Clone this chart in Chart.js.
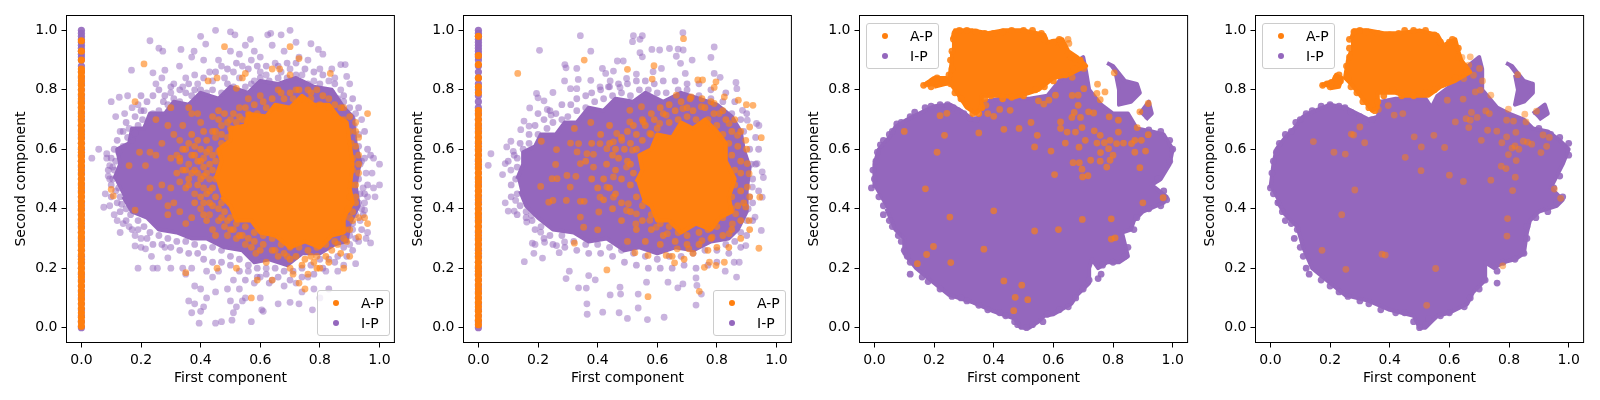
<!DOCTYPE html>
<html>
<head>
<meta charset="utf-8">
<script src="https://cdn.jsdelivr.net/npm/chart.js@4/dist/chart.umd.js"></script>
<style>
body { margin: 0; background: #fff; width: 1600px; height: 400px; overflow: hidden; position: relative; font-family: "DejaVu Sans", sans-serif; }
canvas { position: absolute; top: 0; }
.legend { position: absolute; width: 71px; height: 44px; border: 1px solid #ccc; border-radius: 3px; background: rgba(255,255,255,.8); font-size: 14px; color: #000; }
.legend span { position: absolute; left: 43px; line-height: 16px; }
.legend i { position: absolute; left: 15px; width: 6px; height: 6px; border-radius: 50%; }
</style>
</head>
<body>
<canvas id="c0" width="398" height="400"></canvas>
<canvas id="c1" width="398" height="400"></canvas>
<canvas id="c2" width="398" height="400"></canvas>
<canvas id="c3" width="398" height="400"></canvas>
<script>
var axisTicks = [0, 0.2, 0.4, 0.6, 0.8, 1.0];
var seriesNames = ['A-P', 'I-P'];
var xTitle = 'First component';
var yTitle = 'Second component';

// first two panels, points stacked on the x = 0 edge (y values only)
var edgePurpleY = [0,.02,.04,.06,.08,.1,.12,.14,.16,.18,.2,.22,.24,.26,.28,.3,.32,.34,.36,.38,.4,.42,.44,.46,.48,.5,.52,.54,.56,.58,.6,.62,.64,.66,.68,.7,.72,.74,.76,.78,.8,.82,.84,.86,.88,.9,.91,.92,.93,.94,.95,.96,.97,.98,.99,1];
var edgeOrangeY1 = [.005,.02,.035,.05,.065,.08,.095,.11,.125,.14,.155,.17,.185,.2,.215,.23,.245,.26,.275,.29,.305,.32,.335,.35,.365,.38,.395,.41,.425,.44,.455,.47,.485,.5,.515,.53,.545,.56,.575,.59,.605,.62,.635,.65,.665,.68,.695,.71,.725,.74,.755,.77,.785,.8,.815,.83,.845,.86,.87,.9,.93,.965];
var edgeOrangeY2 = [.01,.025,.04,.055,.07,.085,.1,.115,.13,.145,.16,.175,.19,.205,.22,.235,.25,.265,.28,.295,.31,.325,.34,.355,.37,.385,.4,.415,.43,.445,.46,.475,.49,.505,.52,.535,.55,.565,.58,.595,.61,.625,.64,.655,.67,.685,.7,.715,.73,.79,.81,.84,.885,.915,.98];

// dense middle of each cloud, outline
var massPurple1 = [[.11,.5],[.13,.55],[.12,.6],[.16,.62],[.17,.67],[.21,.67],[.23,.72],[.28,.72],[.31,.76],[.36,.75],[.4,.79],[.46,.77],[.5,.81],[.56,.79],[.6,.83],[.66,.82],[.72,.84],[.78,.81],[.84,.8],[.88,.74],[.91,.71],[.92,.62],[.935,.56],[.92,.48],[.93,.41],[.9,.35],[.89,.29],[.85,.28],[.8,.25],[.74,.25],[.69,.21],[.63,.23],[.58,.22],[.54,.26],[.48,.27],[.42,.3],[.37,.3],[.32,.32],[.26,.33],[.22,.37],[.17,.39],[.14,.44]];
var massOrange1 = [[.45,.5],[.47,.56],[.46,.6],[.5,.63],[.5,.67],[.55,.68],[.56,.72],[.62,.71],[.65,.75],[.7,.74],[.74,.78],[.78,.75],[.83,.75],[.86,.71],[.89,.69],[.9,.62],[.91,.55],[.9,.47],[.91,.42],[.88,.37],[.88,.32],[.84,.31],[.8,.27],[.75,.29],[.7,.27],[.65,.31],[.6,.32],[.57,.36],[.52,.36],[.5,.41],[.47,.44]];
var massPurple2 = [[.13,.5],[.15,.55],[.15,.59],[.19,.61],[.21,.65],[.26,.65],[.29,.69],[.33,.69],[.37,.74],[.42,.73],[.46,.77],[.52,.76],[.56,.79],[.62,.76],[.68,.79],[.74,.77],[.8,.75],[.85,.71],[.88,.66],[.89,.6],[.91,.54],[.9,.46],[.9,.39],[.87,.33],[.84,.3],[.78,.29],[.72,.26],[.66,.27],[.6,.25],[.54,.27],[.49,.26],[.43,.3],[.37,.29],[.32,.32],[.25,.33],[.2,.37],[.16,.41],[.14,.46]];
var massOrange2 = [[.53,.49],[.55,.53],[.54,.58],[.58,.6],[.6,.65],[.65,.64],[.68,.69],[.72,.67],[.76,.7],[.8,.66],[.83,.62],[.83,.56],[.86,.5],[.84,.44],[.85,.39],[.81,.37],[.78,.33],[.73,.35],[.68,.32],[.64,.36],[.6,.36],[.58,.41],[.55,.43]];
var massPurple3 = [[0,.47],[0,.55],[.015,.6],[.05,.64],[.07,.675],[.11,.7],[.15,.72],[.2,.745],[.255,.75],[.29,.73],[.33,.7],[.36,.71],[.37,.76],[.42,.77],[.52,.77],[.58,.78],[.62,.83],[.66,.88],[.7,.91],[.71,.86],[.72,.8],[.76,.75],[.8,.72],[.85,.72],[.88,.67],[.93,.66],[.97,.65],[1,.6],[.99,.55],[.96,.5],[.93,.48],[.98,.44],[.97,.42],[.9,.39],[.87,.36],[.86,.33],[.83,.32],[.85,.24],[.82,.22],[.78,.22],[.75,.2],[.73,.23],[.72,.2],[.72,.15],[.68,.11],[.66,.08],[.6,.045],[.57,.04],[.55,.02],[.52,0],[.49,0],[.47,.03],[.4,.055],[.33,.085],[.25,.11],[.2,.15],[.14,.2],[.1,.25],[.1,.3],[.07,.33],[.04,.4]];
var wingPurple3 = [[.78,.89],[.8,.88],[.84,.83],[.88,.82],[.89,.79],[.86,.76],[.82,.75],[.82,.8],[.81,.85]];
var patchPurple3 = [[.89,.72],[.92,.76],[.93,.72],[.91,.7]];
var massOrange3 = [[.26,.97],[.27,1],[.33,1],[.38,.99],[.43,1],[.5,1],[.57,.985],[.58,.96],[.63,.97],[.65,.93],[.68,.91],[.71,.88],[.65,.85],[.6,.84],[.55,.8],[.52,.79],[.47,.775],[.42,.78],[.36,.78],[.36,.74],[.34,.72],[.31,.74],[.27,.8],[.25,.83],[.26,.9],[.26,.93]];
var islandOrange3 = [[.165,.815],[.2,.84],[.24,.84],[.24,.82],[.2,.81]];
var massPurple4 = [[0,.47],[.01,.55],[.02,.6],[.05,.64],[.08,.67],[.11,.71],[.15,.73],[.2,.75],[.25,.74],[.29,.72],[.33,.7],[.36,.71],[.37,.76],[.42,.77],[.52,.77],[.54,.74],[.56,.78],[.6,.81],[.65,.87],[.7,.91],[.71,.87],[.71,.8],[.76,.74],[.8,.72],[.85,.7],[.88,.67],[.93,.66],[.97,.63],[1,.6],[.98,.55],[.95,.49],[.94,.47],[.98,.43],[.96,.41],[.9,.39],[.87,.36],[.86,.32],[.85,.25],[.82,.23],[.78,.22],[.75,.2],[.72,.22],[.72,.16],[.68,.12],[.66,.08],[.6,.05],[.56,.04],[.54,.02],[.52,0],[.5,0],[.48,.04],[.4,.06],[.33,.09],[.25,.11],[.2,.15],[.14,.2],[.11,.27],[.09,.34],[.05,.38],[.02,.43]];
var wingPurple4 = [[.79,.89],[.81,.88],[.85,.83],[.88,.82],[.88,.79],[.85,.76],[.82,.75],[.83,.8],[.82,.85]];
var patchPurple4 = [[.88,.72],[.92,.75],[.93,.72],[.9,.7]];
var massOrange4 = [[.27,.97],[.28,1],[.33,1],[.38,.99],[.43,.99],[.5,1],[.56,.985],[.58,.95],[.62,.97],[.63,.93],[.64,.9],[.67,.86],[.62,.83],[.57,.81],[.53,.78],[.45,.78],[.42,.79],[.36,.79],[.36,.74],[.34,.73],[.31,.77],[.27,.82],[.25,.84],[.26,.9],[.27,.93]];
var islandOrange4 = [[.17,.815],[.21,.83],[.22,.85],[.24,.84],[.23,.81],[.2,.805]];

// single dots
var purple1 = [[.45,1],[.4,.98],[.5,.995],[.515,.985],[.7,1],[.67,.985],[.635,.99],[.625,.985],[.567,.97],[.23,.965],[.26,.94],[.273,.93],[.334,.936],[.417,.954],[.378,.93],[.77,.955],[.795,.936],[.168,.866],[.329,.88],[.24,.857],[.28,.866],[.37,.91],[.41,.9],[.46,.9],[.5,.93],[.53,.92],[.58,.93],[.6,.91],[.64,.95],[.68,.93],[.72,.96],[.73,.91],[.76,.9],[.8,.87],[.84,.87],[.87,.885],[.885,.885],[.89,.845],[.85,.84],[.81,.92],[.55,.95],[.57,.9],[.6,.86],[.65,.89],[.7,.87],[.43,.86],[.47,.88],[.51,.86],[.54,.88],[.35,.84],[.38,.85],[.31,.82],[.27,.84],[.25,.82],[.3,.79],[.34,.81],[.39,.82],[.44,.83],[.48,.84],[.53,.84],[.58,.83],[.62,.85],[.67,.86],[.74,.85],[.78,.83],[.83,.83],[.87,.8],
  [.1,.76],[.127,.775],[.155,.78],[.115,.71],[.145,.72],[.17,.74],[.19,.75],[.21,.73],[.13,.66],[.16,.67],[.035,.57],[.058,.6],[.085,.585],[.085,.57],[.095,.545],[.105,.54],[.09,.51],[.095,.5],[.115,.46],[.08,.45],[.075,.405],[.095,.41],[.11,.38],[.12,.36],[.14,.35],[.16,.34],[.13,.32],[.18,.31],[.2,.3],[.18,.275],[.2,.27],[.215,.265],[.235,.24],[.19,.2],[.24,.2],[.255,.2],[.29,.235],[.3,.2],[.34,.2],[.35,.18],[.37,.2],[.28,.27],
  [.42,.19],[.44,.17],[.46,.19],[.38,.14],[.4,.13],[.42,.1],[.36,.09],[.38,.08],[.41,.07],[.37,.05],[.4,.055],[.395,.015],[.45,.015],[.47,.02],[.505,.025],[.51,.05],[.57,.02],[.45,.12],[.49,.13],[.51,.16],[.53,.13],[.55,.1],[.5,.09],[.52,.07],[.54,.09],[.6,.1],[.605,.06],[.61,.055],[.66,.08],[.7,.085],[.73,.08],[.775,.06],[.8,.1],[.83,.13],[.78,.13],[.74,.12],[.68,.14],[.64,.16],[.6,.17],[.58,.15],[.56,.19],[.62,.2],[.72,.15],[.76,.17],[.82,.19],[.86,.19],[.88,.21],[.92,.215],
  [.9,.82],[.92,.72],[.94,.7],[.915,.68],[.93,.65],[.92,.6],[.94,.56],[.98,.57],[1,.55],[.955,.52],[.975,.52],[.945,.47],[.98,.47],[1,.48],[.96,.44],[.95,.42],[.985,.44],[.94,.4],[.95,.395],[.935,.36],[.96,.32],[.955,.3],[.97,.285],[.91,.33],[.93,.29],[.9,.28]];
var purpleFringe1 = [[.105,.5],[.11,.53],[.115,.56],[.125,.59],[.14,.61],[.125,.47],[.13,.44],[.135,.415],[.15,.4],[.165,.38],[.17,.63],[.155,.64],[.18,.655],[.19,.68],[.205,.7],[.225,.69],[.24,.72],[.26,.73],[.275,.76],[.29,.75],[.31,.77],[.33,.76],[.35,.79],[.37,.78],[.4,.8],[.42,.79],[.44,.8],[.47,.79],[.49,.82],[.51,.81],[.55,.81],[.57,.82],[.6,.84],[.63,.83],[.66,.84],[.69,.84],[.72,.85],[.76,.82],[.8,.82],[.84,.79],[.86,.77],[.88,.76],[.9,.74],[.91,.7],[.93,.61],[.935,.55],[.93,.5],[.935,.45],[.93,.42],[.92,.38],[.91,.35],[.9,.31],[.88,.27],[.86,.24],[.83,.23],[.8,.23],[.77,.21],[.74,.2],[.71,.19],[.68,.19],[.65,.2],[.62,.18],[.59,.2],[.56,.21],[.53,.23],[.5,.24],[.47,.26],[.44,.27],[.41,.27],[.38,.28],[.35,.29],[.32,.29],[.29,.3],[.26,.31],[.23,.32],[.21,.34],[.19,.36],
  [.2,.78],[.22,.76],[.24,.78],[.26,.8],[.28,.78],[.3,.81],[.33,.8],[.36,.82],[.38,.8],[.41,.84],[.45,.86],[.49,.87],[.52,.89],[.56,.87],[.59,.88],[.62,.88],[.66,.88],[.69,.89],[.72,.89],[.75,.87],[.78,.86],[.81,.85],[.85,.82],[.88,.78],[.91,.77],[.93,.74],[.95,.66],[.96,.6],[.97,.58],[.95,.57],[.96,.48],[.95,.45],[.945,.38],[.94,.33],[.92,.3],[.91,.26],[.89,.24],[.85,.22],[.81,.2],[.78,.18],[.74,.17],[.7,.16],[.66,.17],[.63,.15],[.59,.17],[.55,.16],[.53,.19],[.5,.21],[.47,.22],[.44,.22],[.41,.23],[.39,.25],[.36,.25],[.33,.26],[.3,.27],[.27,.28],[.24,.28],[.22,.3],[.19,.33],[.17,.33],[.15,.36],[.13,.39],[.12,.42],[.1,.44],[.1,.48],[.09,.53],[.1,.57],[.11,.6],[.12,.63],[.14,.66],[.15,.69],[.18,.71],[.2,.73]];
var orange1 = [[.48,.945],[.7,.945],[.21,.887],[.73,.905],[.55,.855],[.835,.855],[.64,.87],[.665,.87],[.7,.85],[.54,.84],[.425,.83],[.455,.84],[.52,.805],[.18,.76],[.3,.74],[.96,.72],[.25,.7],[.36,.74],[.37,.72],[.39,.72],[.34,.68],[.29,.68],[.4,.69],[.31,.65],[.33,.63],[.27,.62],[.195,.59],[.23,.59],[.25,.58],[.16,.545],[.215,.545],[.3,.57],[.32,.58],[.33,.57],[.36,.55],[.38,.53],[.41,.57],[.43,.6],[.45,.64],[.47,.68],[.5,.7],[.53,.74],[.56,.77],[.6,.78],[.66,.8],[.72,.8],[.76,.8],[.79,.8],[.83,.77],[.88,.74],[.92,.69],[.93,.64],[.93,.58],[.93,.52],[.23,.47],[.27,.48],[.3,.47],[.33,.49],[.35,.47],[.38,.45],[.41,.47],[.43,.5],[.1,.465],[.107,.443],[.18,.395],[.26,.44],[.29,.41],[.31,.42],[.29,.38],[.33,.39],[.35,.35],[.37,.37],[.4,.4],[.43,.38],[.44,.33],[.46,.36],[.49,.31],[.52,.3],[.55,.28],[.585,.25],[.62,.22],[.65,.26],[.69,.24],[.7,.2],[.71,.18],[.73,.15],[.75,.13],[.64,.16],[.59,.16],[.57,.1],[.52,.2],[.455,.2],[.35,.185],[.76,.18],[.8,.2],[.79,.24],[.84,.26],[.88,.2],[.9,.24],[.93,.305],[.95,.37],[.96,.35],[.93,.37],[.9,.37]];
var orangeFringe1 = [[.44,.47],[.45,.5],[.44,.53],[.45,.56],[.46,.59],[.47,.62],[.49,.64],[.5,.67],[.52,.69],[.54,.7],[.56,.72],[.59,.72],[.62,.74],[.65,.74],[.68,.77],[.71,.77],[.74,.77],[.77,.77],[.8,.75],[.83,.74],[.85,.71],[.88,.7],[.9,.66],[.905,.62],[.91,.57],[.91,.53],[.905,.48],[.9,.44],[.895,.4],[.88,.37],[.885,.33],[.86,.32],[.85,.29],[.82,.28],[.79,.27],[.76,.26],[.73,.27],[.7,.27],[.67,.28],[.64,.3],[.61,.31],[.58,.32],[.55,.34],[.52,.35],[.5,.37],[.48,.39],[.47,.42],[.45,.44],[.43,.46],[.42,.52],[.41,.54],[.4,.5],[.39,.56],[.37,.58],[.38,.61],[.4,.6],[.42,.63],[.44,.66],[.46,.7],[.48,.72],[.43,.42],[.41,.42],[.39,.48],[.36,.5],[.34,.53],[.32,.52],[.35,.6],[.37,.65],[.41,.66],[.44,.71],[.46,.73],[.42,.36],[.45,.31],[.48,.34],[.51,.33],[.53,.31],[.56,.3],[.58,.29],[.61,.28],[.64,.26],[.68,.25],[.72,.24],[.75,.23],[.78,.22],[.82,.24],[.86,.28],[.88,.3],[.91,.36],[.92,.44],[.92,.48],
  [.34,.6],[.36,.62],[.39,.63],[.33,.56],[.35,.53],[.37,.52],[.39,.52],[.41,.51],[.43,.55],[.44,.58],[.42,.59],[.4,.56],[.38,.58],[.36,.48],[.38,.42],[.4,.44],[.42,.45],[.44,.41],[.46,.4],[.47,.37],[.49,.36],[.41,.38],[.45,.66],[.47,.65],[.49,.69],[.51,.72],[.53,.71],[.55,.74],[.58,.75],[.61,.76],[.64,.77],[.67,.79],[.7,.79],[.73,.8],[.77,.79],[.81,.78],[.85,.75],[.87,.74],[.9,.71],[.92,.66],[.92,.61],[.93,.55],[.92,.42],[.91,.39],[.9,.33],[.89,.29],[.87,.25],[.83,.22],[.79,.2],[.77,.24],[.74,.21],[.7,.23],[.66,.24],[.6,.26],[.57,.27],[.54,.31],[.5,.33]];
var purple2 = [[.342,.982],[.205,.933],[.377,.93],[.52,.982],[.55,.982],[.517,.962],[.542,.97],[.687,.934],[.686,.992],[.791,.944],[.641,.939],[.67,.937],[.582,.936],[.608,.934],[.542,.925],[.55,.911],[.466,.897],[.486,.897],[.78,.909],[.717,.9],[.664,.913],[.678,.889],[.29,.885],[.294,.874],[.33,.872],[.416,.872],[.427,.855],[.453,.863],[.497,.838],[.53,.853],[.586,.861],[.614,.872],[.694,.855],[.791,.855],[.811,.842],[.864,.825],[.867,.804],[.289,.83],[.335,.835],[.377,.832],[.442,.83],[.195,.788],[.2,.773],[.22,.763],[.25,.791],[.309,.804],[.33,.804],[.408,.81],[.436,.81],[.475,.808],[.172,.739],[.231,.734],[.244,.715],[.153,.695],[.17,.678],[.109,.627],[.095,.608],[.142,.666],[.117,.593],[.042,.585],[.033,.546],[.081,.515],[.09,.552],[.109,.53],[.09,.42],[.125,.428],[.1,.392],[.12,.392],[.162,.355],[.178,.378],[.209,.321],[.181,.284],[.19,.28],[.222,.287],[.262,.276],[.289,.288],[.186,.25],[.154,.222],[.215,.234],[.271,.252],[.305,.19],[.294,.165],[.336,.134],[.362,.133],[.37,.175],[.392,.161],[.364,.08],[.365,.045],[.417,.052],[.472,.05],[.5,.031],[.567,.027],[.623,.035],[.442,.11],[.475,.136],[.477,.113],[.536,.113],[.536,.066],[.564,.153],[.636,.153],[.669,.134],[.73,.076],[.748,.113],[.733,.142],[.73,.167],[.686,.147],[.866,.17],[.828,.19],[.875,.22],[.858,.22],[.897,.276],[.949,.327],[.928,.372],[.952,.439],[.919,.473],[.956,.505],[.952,.524],[.935,.552],[.933,.687],[.941,.68],[.902,.698],[.886,.731]];
var purpleFringe2 = [[.125,.5],[.13,.54],[.13,.57],[.15,.6],[.17,.62],[.2,.65],[.23,.67],[.25,.69],[.28,.7],[.3,.71],[.33,.73],[.36,.74],[.39,.76],[.42,.77],[.45,.78],[.48,.79],[.51,.78],[.54,.8],[.57,.8],[.6,.79],[.63,.79],[.67,.8],[.7,.8],[.74,.78],[.78,.77],[.82,.76],[.85,.72],[.88,.7],[.89,.66],[.91,.6],[.915,.55],[.92,.5],[.91,.44],[.905,.4],[.9,.36],[.88,.32],[.86,.29],[.83,.28],[.8,.26],[.76,.26],[.72,.25],[.68,.24],[.64,.24],[.6,.23],[.56,.24],[.52,.25],[.48,.26],[.44,.27],[.4,.28],[.36,.28],[.32,.29],[.28,.31],[.24,.31],[.21,.34],[.18,.36],[.16,.39],[.14,.41],[.13,.45],
  [.2,.72],[.22,.7],[.24,.73],[.26,.72],[.28,.75],[.31,.75],[.33,.77],[.36,.78],[.38,.79],[.41,.8],[.44,.81],[.47,.82],[.5,.82],[.53,.83],[.56,.83],[.59,.82],[.62,.83],[.66,.83],[.7,.82],[.74,.82],[.78,.8],[.83,.79],[.86,.76],[.9,.72],[.93,.64],[.94,.6],[.93,.55],[.94,.46],[.92,.42],[.92,.36],[.9,.31],[.88,.27],[.84,.25],[.8,.22],[.77,.21],[.73,.2],[.69,.21],[.65,.2],[.61,.2],[.57,.2],[.53,.21],[.49,.22],[.45,.24],[.41,.25],[.37,.25],[.33,.26],[.29,.27],[.25,.28],[.22,.3],[.19,.33],[.16,.37],[.13,.38],[.11,.44],[.11,.48],[.1,.56],[.12,.58],[.14,.62],[.17,.65],[.19,.68]];
var orange2 = [[.132,.855],[.355,.9],[.688,.972],[.589,.881],[.5,.869],[.583,.836],[.736,.833],[.752,.833],[.791,.808],[.797,.827],[.921,.748],[.899,.75],[.791,.754],[.872,.765],[.825,.776],[.714,.776],[.664,.782],[.949,.639],[.91,.675],[.944,.439],[.941,.267],[.322,.284],[.431,.194],[.569,.104],[.741,.122],[.797,.209],[.758,.203],[.775,.22],[.825,.22],[.658,.218],[.569,.243],[.63,.243],[.525,.252],[.5,.29],[.209,.475],[.211,.627],[.262,.599],[.259,.549],[.247,.501],[.264,.501],[.297,.512],[.327,.509],[.308,.473],[.236,.422],[.25,.428],[.295,.428],[.342,.425],[.355,.425],[.404,.389],[.353,.338],[.342,.372],[.4,.329],[.322,.67],[.377,.69],[.309,.621],[.336,.619],[.331,.591],[.364,.585],[.386,.583],[.342,.552],[.386,.54],[.408,.619],[.431,.602],[.453,.625],[.464,.653],[.508,.692],[.481,.63],[.553,.692],[.508,.731],[.547,.743],[.608,.687],[.63,.715],[.686,.737],[.748,.743],[.808,.72],[.841,.687],[.869,.647],[.897,.63],[.902,.552],[.908,.518],[.902,.473],[.897,.406],[.908,.36],[.863,.383],[.852,.349],[.841,.316],[.784,.304],[.75,.293],[.706,.265],[.667,.265],[.634,.316],[.597,.338],[.528,.349],[.497,.394],[.453,.439],[.408,.439],[.431,.473],[.453,.507],[.497,.54],[.517,.597],[.575,.653],[.503,.417],[.53,.383],[.575,.361]];
var orangeFringe2 = [[.51,.48],[.52,.52],[.51,.55],[.53,.6],[.55,.63],[.58,.65],[.6,.67],[.64,.69],[.67,.7],[.7,.71],[.73,.7],[.77,.7],[.8,.68],[.82,.65],[.84,.62],[.85,.58],[.86,.53],[.86,.48],[.85,.44],[.85,.4],[.82,.37],[.8,.34],[.77,.33],[.74,.32],[.7,.31],[.67,.32],[.64,.34],[.61,.35],[.58,.38],[.55,.41],[.53,.44],[.48,.5],[.46,.53],[.44,.47],[.42,.5],[.47,.57],[.49,.6],[.5,.56],[.51,.62],[.53,.65],[.56,.68],[.59,.7],[.62,.72],[.66,.73],[.7,.74],[.72,.73],[.76,.74],[.79,.72],[.83,.7],[.85,.66],[.87,.61],[.88,.56],[.88,.46],[.87,.41],[.88,.36],[.85,.33],[.82,.31],[.78,.3],[.74,.28],[.7,.28],[.66,.29],[.62,.31],[.58,.33],[.55,.36],[.51,.39],[.48,.42],[.46,.45],
  [.43,.55],[.45,.58],[.44,.62],[.46,.6],[.48,.64],[.5,.66],[.52,.68],[.55,.7],[.58,.72],[.61,.74],[.64,.75],[.68,.76],[.71,.77],[.75,.77],[.78,.76],[.82,.73],[.86,.7],[.88,.66],[.9,.6],[.88,.52],[.91,.44],[.89,.42],[.91,.33],[.88,.3],[.84,.27],[.8,.27],[.77,.26],[.72,.25],[.69,.23],[.65,.24],[.61,.28],[.56,.29],[.53,.33],[.48,.36],[.45,.4],[.42,.43],[.4,.47],[.38,.5],[.36,.56],[.38,.62],[.41,.65],[.44,.68]];
var purpleFringe3 = [[-.01,.47],[0,.5],[-.005,.53],[.005,.56],[.01,.59],[.02,.615],[.03,.63],[.05,.65],[.06,.66],[.075,.685],[.09,.69],[.12,.71],[.135,.725],[.17,.74],[.19,.745],[.22,.75],[.245,.75],[.265,.74],[.28,.73],[.3,.72],[.32,.705],[.34,.7],[.015,.44],[.03,.41],[.03,.38],[.05,.36],[.06,.34],[.08,.31],[.09,.29],[.1,.26],[.11,.24],[.12,.22],[.12,.18],[.16,.17],[.18,.155],[.22,.13],[.26,.105],[.29,.1],[.31,.09],[.35,.075],[.38,.06],[.42,.05],[.44,.04],[.47,.02],[.48,.01],[.51,0],[.53,.01],[.565,.02],[.58,.045],[.62,.06],[.65,.07],[.675,.1],[.7,.13],[.72,.16],[.75,.165],[.76,.18],[.765,.21],[.8,.22],[.84,.24],[.85,.27],[.87,.33],[.88,.37],[.92,.4],[.96,.41],[.98,.43],[.97,.46],[.95,.5],[.99,.56],[1,.6],[.99,.63],[.96,.66],[.92,.665]];
var orange3 = [[.1,.66],[.235,.647],[.21,.59],[.22,.713],[.243,.721],[.35,.655],[.434,.667],[.485,.67],[.525,.69],[.546,.647],[.537,.608],[.592,.594],[.604,.515],[.171,.467],[.4,.393],[.253,.372],[.537,.325],[.617,.33],[.697,.364],[.794,.366],[.794,.298],[.807,.302],[.198,.273],[.175,.246],[.144,.215],[.256,.219],[.367,.264],[.434,.157],[.494,.143],[.472,.102],[.514,.094],[.467,.057],[.968,.437],[.9,.42],[.89,.538],[.696,.533],[.687,.555],[.666,.555],[.698,.507],[.716,.511],[.725,.563],[.757,.56],[.779,.54],[.79,.563],[.8,.58],[.758,.589],[.785,.602],[.746,.621],[.771,.622],[.79,.63],[.812,.619],[.835,.621],[.862,.619],[.873,.63],[.895,.63],[.918,.649],[.873,.59],[.909,.594],[.64,.621],[.686,.607],[.707,.63],[.737,.662],[.757,.647],[.818,.658],[.881,.673],[.624,.692],[.624,.67],[.646,.658],[.674,.658],[.662,.707],[.67,.724],[.691,.707],[.696,.673],[.683,.748],[.718,.726],[.735,.722],[.787,.709],[.818,.698],[.89,.726],[.918,.754],[.663,.781],[.683,.782],[.702,.804],[.748,.819],[.746,.788],[.773,.793],[.757,.767],[.607,.782],[.585,.765],[.55,.763],[.568,.752],[.455,.731],[.42,.734],[.4,.711],[.38,.72],[.374,.748],[.702,.872],[.663,.842],[.674,.902],[.649,.97],[.652,.956],[.804,.857]];
var orangeFringe3 = [[.265,.97],[.27,.99],[.285,1],[.31,1],[.34,.995],[.37,.99],[.4,.99],[.43,.995],[.46,1],[.5,1],[.53,1],[.56,.99],[.57,.97],[.6,.96],[.62,.97],[.63,.95],[.65,.92],[.66,.91],[.69,.9],[.67,.87],[.64,.85],[.6,.83],[.57,.81],[.54,.8],[.5,.78],[.46,.775],[.43,.77],[.39,.78],[.37,.77],[.36,.74],[.35,.72],[.33,.72],[.31,.75],[.29,.77],[.27,.79],[.255,.82],[.25,.85],[.26,.87],[.255,.9],[.26,.93],[.165,.815],[.18,.82],[.195,.83],[.21,.84],[.23,.835],[.24,.825],[.19,.81]];
var purpleFringe4 = [[0,.47],[.005,.52],[.01,.56],[.02,.59],[.03,.62],[.05,.65],[.07,.66],[.085,.69],[.1,.7],[.12,.72],[.14,.73],[.17,.745],[.2,.75],[.23,.745],[.25,.74],[.27,.725],[.3,.71],[.32,.695],[.34,.7],[.01,.45],[.025,.42],[.04,.39],[.05,.36],[.07,.35],[.09,.33],[.08,.3],[.1,.27],[.11,.24],[.12,.2],[.13,.18],[.17,.16],[.2,.14],[.23,.12],[.26,.105],[.3,.09],[.33,.08],[.37,.06],[.42,.05],[.45,.05],[.48,.02],[.5,0],[.52,.01],[.53,.03],[.57,.04],[.6,.05],[.65,.07],[.67,.1],[.7,.13],[.72,.16],[.76,.15],[.76,.19],[.78,.22],[.82,.23],[.85,.25],[.86,.3],[.86,.34],[.89,.37],[.93,.39],[.96,.42],[.98,.44],[.95,.47],[.97,.51],[1,.58],[1,.62],[.97,.64],[.94,.65],[.9,.67]];
var orange4 = [[.144,.626],[.213,.59],[.251,.584],[.271,.651],[.279,.648],[.3,.675],[.316,.622],[.362,.734],[.395,.747],[.415,.715],[.444,.72],[.452,.573],[.482,.642],[.506,.608],[.505,.528],[.548,.647],[.584,.606],[.6,.513],[.647,.492],[.739,.496],[.283,.463],[.239,.38],[.173,.26],[.253,.196],[.374,.247],[.385,.244],[.554,.199],[.524,.075],[.779,.208],[.793,.308],[.795,.367],[.812,.461],[.821,.506],[.824,.562],[.952,.466],[.973,.435],[.774,.543],[.79,.535],[.798,.582],[.81,.604],[.833,.6],[.82,.611],[.776,.622],[.792,.642],[.823,.657],[.848,.627],[.862,.624],[.876,.617],[.907,.589],[.914,.648],[.926,.61],[.935,.64],[.892,.728],[.853,.718],[.857,.692],[.829,.851],[.798,.735],[.792,.698],[.815,.695],[.707,.63],[.728,.664],[.759,.661],[.665,.673],[.62,.692],[.656,.703],[.67,.698],[.693,.707],[.674,.724],[.734,.72],[.722,.729],[.739,.782],[.704,.799],[.687,.793],[.646,.769],[.593,.765],[.681,.849],[.648,.838],[.665,.883],[.701,.872],[.711,.83],[.67,.911],[.642,.909]];
var orangeFringe4 = [[.265,.97],[.28,.995],[.3,1],[.32,.995],[.36,.99],[.4,.985],[.43,.99],[.45,1],[.48,1],[.52,1],[.55,.985],[.57,.96],[.6,.96],[.61,.97],[.63,.94],[.63,.91],[.65,.88],[.66,.86],[.62,.84],[.58,.82],[.55,.8],[.52,.79],[.48,.78],[.44,.78],[.41,.8],[.38,.78],[.36,.76],[.35,.73],[.33,.74],[.31,.76],[.29,.79],[.27,.81],[.26,.84],[.255,.88],[.265,.91],[.265,.94],[.175,.815],[.19,.82],[.205,.825],[.22,.84],[.23,.85],[.235,.83],[.2,.81]];

var PURPLE = '148,103,189', ORANGE = '255,127,14';

function toPts(pairs) { return pairs.map(function(p) { return { x: p[0], y: p[1] }; }); }
function onEdge(ys) { return ys.map(function(y) { return { x: 0, y: y }; }); }

function dots(label, data, rgb, alpha, r) {
    return { label: label, data: data, showLine: false, pointRadius: r || 3.4, pointHoverRadius: r || 3.4, pointBorderWidth: 0, pointBackgroundColor: 'rgba(' + rgb + ',' + alpha + ')' };
}
function mass(label, pairs, rgb, alpha) {
    return { label: label, data: toPts(pairs), showLine: true, fill: 'shape', tension: 0, pointRadius: 0, borderWidth: 4, borderJoinStyle: 'round', borderColor: 'rgba(' + rgb + ',' + alpha + ')', backgroundColor: 'rgba(' + rgb + ',' + alpha + ')' };
}

var A = seriesNames[0], I = seriesNames[1];
// first dataset in the list ends up on top
var panels = [
    { left: 0, legend: [317, 290], datasets: [dots(A, toPts(orange1), ORANGE, .6), dots(A, toPts(orangeFringe1), ORANGE, .65), mass(A, massOrange1, ORANGE, 1), dots(A, onEdge(edgeOrangeY1), ORANGE, 1, 3.6), dots(I, onEdge(edgePurpleY), PURPLE, .9, 3.6), dots(I, toPts(purple1), PURPLE, .5), dots(I, toPts(purpleFringe1), PURPLE, .55), mass(I, massPurple1, PURPLE, 1)] },
    { left: 397, legend: [713, 290], datasets: [dots(A, toPts(orange2), ORANGE, .6), dots(A, toPts(orangeFringe2), ORANGE, .65), mass(A, massOrange2, ORANGE, 1), dots(A, onEdge(edgeOrangeY2), ORANGE, 1, 3.6), dots(I, onEdge(edgePurpleY), PURPLE, .9, 3.6), dots(I, toPts(purple2), PURPLE, .5), dots(I, toPts(purpleFringe2), PURPLE, .55), mass(I, massPurple2, PURPLE, 1)] },
    { left: 793, legend: [866, 23], datasets: [dots(A, toPts(orange3), ORANGE, .65), dots(A, toPts(orangeFringe3), ORANGE, .9), mass(A, massOrange3, ORANGE, 1), mass(A, islandOrange3, ORANGE, 1), dots(I, toPts(purpleFringe3), PURPLE, .9), mass(I, massPurple3, PURPLE, 1), mass(I, wingPurple3, PURPLE, 1), mass(I, patchPurple3, PURPLE, 1)] },
    { left: 1189, legend: [1262, 23], datasets: [dots(A, toPts(orange4), ORANGE, .5), dots(A, toPts(orangeFringe4), ORANGE, .9), mass(A, massOrange4, ORANGE, 1), mass(A, islandOrange4, ORANGE, 1), dots(I, toPts(purpleFringe4), PURPLE, .9), mass(I, massPurple4, PURPLE, 1), mass(I, wingPurple4, PURPLE, 1), mass(I, patchPurple4, PURPLE, 1)] }
];

var boxPlugin = {
    id: 'box',
    afterDraw: function(chart) {
        var a = chart.chartArea, ctx = chart.ctx;
        ctx.save();
        ctx.strokeStyle = '#000';
        ctx.lineWidth = 1;
        ctx.strokeRect(a.left, a.top, a.right - a.left, a.bottom - a.top);
        ctx.restore();
    }
};

function axis(title, fixSize, titlePadding) {
    return {
        type: 'linear', min: -0.05, max: 1.05,
        afterBuildTicks: function(s) { s.ticks = axisTicks.map(function(v) { return { value: v }; }); },
        afterFit: fixSize,
        grid: { drawOnChartArea: false, color: '#000', tickLength: 5 },
        border: { color: '#000' },
        ticks: { color: '#000', font: { size: 14 }, padding: 4, maxRotation: 0, autoSkip: false, callback: function(v) { return v.toFixed(1); } },
        title: { display: true, text: title, color: '#000', font: { size: 14 }, padding: titlePadding }
    };
}

Chart.defaults.font.family = '"DejaVu Sans"';

panels.forEach(function(p, i) {
    var canvas = document.getElementById('c' + i);
    canvas.style.left = p.left + 'px';
    new Chart(canvas.getContext('2d'), {
        type: 'scatter',
        data: { datasets: p.datasets },
        plugins: [boxPlugin],
        options: {
            responsive: false,
            animation: false,
            devicePixelRatio: 1,
            layout: { padding: { top: 15.5, right: 1.5, left: 0, bottom: 0 } },
            plugins: { legend: { display: false }, tooltip: { enabled: false } },
            scales: {
                x: axis(xTitle, function(s) { s.height = 57.5; }, { top: 4, bottom: 13 }),
                y: axis(yTitle, function(s) { s.width = 66.5; }, { top: 13, bottom: 0 })
            }
        }
    });
    var box = document.createElement('div');
    box.className = 'legend';
    box.style.left = p.legend[0] + 'px';
    box.style.top = p.legend[1] + 'px';
    box.innerHTML = '<i style="top:9px;background:rgb(' + ORANGE + ')"></i><span style="top:4px">' + A + '</span>' +
        '<i style="top:29px;background:rgb(' + PURPLE + ')"></i><span style="top:24px">' + I + '</span>';
    document.body.appendChild(box);
});
</script>
</body>
</html>
